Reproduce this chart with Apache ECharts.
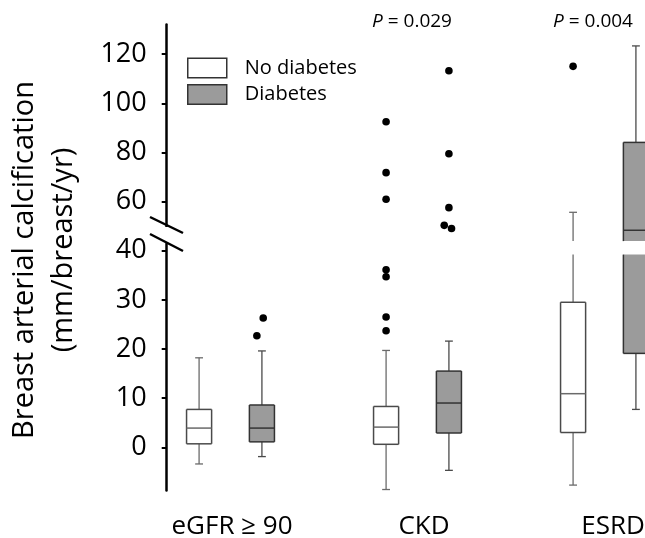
<!DOCTYPE html>
<html>
<head>
<meta charset="utf-8">
<script src="https://cdn.jsdelivr.net/npm/echarts@6/dist/echarts.min.js"></script>
<style>
html,body{margin:0;padding:0;background:#fff;}
#c{width:645px;height:538px;}
</style>
</head>
<body>
<div id="c"></div>
<script>
// ---------------- data ----------------
const categories = ['eGFR ≥ 90', 'CKD', 'ESRD'];
// [lower whisker, Q1, median, Q3, upper whisker]
const noDiabetesBox = [
  [-3.4, 0.7, 3.9, 7.7, 18.2],
  [-8.6, 0.6, 4.1, 8.3, 19.7],
  [-7.7, 3.0, 10.9, 29.5, 55.7]
];
const diabetesBox = [
  [-1.9, 1.1, 3.9, 8.6, 19.6],
  [-4.7, 2.9, 9.0, 15.5, 21.6],
  [7.7, 19.1, 48.4, 84.1, 123.3]
];
const noDiabetesOutliers = [
  [],
  [23.7, 26.5, 34.7, 36.1, 61.0, 71.8, 92.5],
  [115.0]
];
const diabetesOutliers = [
  [22.7, 26.3],
  [49.1, 50.4, 57.6, 79.5, 113.2],
  []
];
const pValueLabels = ['', '0.029', '0.004'];
const lowerTicks = [0, 10, 20, 30, 40];
const upperTicks = [60, 80, 100, 120];
const yTitle = ['Breast arterial calcification', '(mm/breast/yr)'];

// ---------------- style constants ----------------
const FONT = 'Open Sans';
const breakLow = 39.2;   // lower panel cut value
const lowerRange = [-8.8, 41.4];
const upperRange = [44, 132];
const OFFSET = 0.168, BOX_FRAC = 0.134, CAP_FRAC = 0.042;
// horizontal jitter of outlier dots (fraction of category band) - style only
const noDiabetesJitter = [[], [0, 0, 0, 0, 0, 0, 0], [0]];
const diabetesJitter = [[-0.027, 0.007], [0.014, -0.025, 0, 0, 0], []];

function boxRenderer(side, fill, boxStroke, whiskerStroke, medStroke, lo, hi) {
  return function (params, api) {
    const cat = api.value(0);
    const wmin = api.value(1), q1 = api.value(2), med = api.value(3), q3 = api.value(4), wmax = api.value(5);
    const band = api.size([1, 0])[0];
    const cx = api.coord([cat, 0])[0] + side * OFFSET * band;
    const hw = BOX_FRAC * band / 2, hc = CAP_FRAC * band / 2;
    const y = v => api.coord([cat, Math.max(lo, Math.min(hi, v))])[1];
    const inside = v => v >= lo && v <= hi;
    const ch = [];
    const ws = {stroke: whiskerStroke, lineWidth: 1.3};
    if (q1 > lo && wmin < hi) ch.push({type: 'line', shape: {x1: cx, y1: y(wmin), x2: cx, y2: y(q1)}, style: ws});
    if (wmax > lo && q3 < hi) ch.push({type: 'line', shape: {x1: cx, y1: y(q3), x2: cx, y2: y(wmax)}, style: ws});
    if (inside(wmin)) ch.push({type: 'line', shape: {x1: cx - hc, y1: y(wmin), x2: cx + hc, y2: y(wmin)}, style: ws});
    if (inside(wmax)) ch.push({type: 'line', shape: {x1: cx - hc, y1: y(wmax), x2: cx + hc, y2: y(wmax)}, style: ws});
    if (q3 > lo && q1 < hi) {
      const yt = y(q3), yb = y(q1);
      const bs = {stroke: boxStroke, lineWidth: 1.5};
      ch.push({type: 'rect', shape: {x: cx - hw, y: yt, width: 2 * hw, height: yb - yt}, style: {fill: fill}});
      ch.push({type: 'line', shape: {x1: cx - hw, y1: yt, x2: cx - hw, y2: yb}, style: bs});
      ch.push({type: 'line', shape: {x1: cx + hw, y1: yt, x2: cx + hw, y2: yb}, style: bs});
      if (inside(q3)) ch.push({type: 'line', shape: {x1: cx - hw, y1: yt, x2: cx + hw, y2: yt}, style: bs});
      if (inside(q1)) ch.push({type: 'line', shape: {x1: cx - hw, y1: yb, x2: cx + hw, y2: yb}, style: bs});
    }
    if (inside(med)) ch.push({type: 'line', shape: {x1: cx - hw, y1: y(med), x2: cx + hw, y2: y(med)}, style: {stroke: medStroke, lineWidth: 1.5}});
    return {type: 'group', children: ch};
  };
}

function outlierRenderer(side, lo, hi) {
  return function (params, api) {
    const cat = api.value(0), v = api.value(1), j = api.value(2);
    if (v < lo || v > hi) return null;
    const band = api.size([1, 0])[0];
    const p = api.coord([cat, v]);
    return {type: 'circle', shape: {cx: p[0] + (side * OFFSET + j) * band, cy: p[1], r: 3.8}, style: {fill: '#000'}};
  };
}

const boxData = arr => arr.map((b, i) => [i].concat(b));
const outData = (arr, jit) => {
  const out = [];
  arr.forEach((vals, i) => vals.forEach((v, k) => out.push([i, v, jit[i][k] || 0])));
  return out;
};

const ND = {fill: '#ffffff', box: '#4a4a4a', whisker: '#6a6a6a', med: '#6a6a6a'};
const DI = {fill: '#9b9b9b', box: '#333333', whisker: '#4a4a4a', med: '#333333'};

const series = [];
[[0, upperRange[0], upperRange[1]], [1, lowerRange[0], breakLow]].forEach(([g, lo, hi]) => {
  series.push({
    name: 'No diabetes', type: 'custom', xAxisIndex: g, yAxisIndex: g,
    itemStyle: {color: ND.fill, borderColor: ND.box},
    renderItem: boxRenderer(-1, ND.fill, ND.box, ND.whisker, ND.med, lo, hi),
    encode: {x: 0, y: [1, 2, 3, 4, 5]}, data: boxData(noDiabetesBox)
  });
  series.push({
    name: 'Diabetes', type: 'custom', xAxisIndex: g, yAxisIndex: g,
    itemStyle: {color: DI.fill, borderColor: DI.box},
    renderItem: boxRenderer(1, DI.fill, DI.box, DI.whisker, DI.med, lo, hi),
    encode: {x: 0, y: [1, 2, 3, 4, 5]}, data: boxData(diabetesBox)
  });
  series.push({
    name: 'No diabetes', type: 'custom', xAxisIndex: g, yAxisIndex: g,
    itemStyle: {color: ND.fill},
    renderItem: outlierRenderer(-1, lo, hi), encode: {x: 0, y: 1},
    data: outData(noDiabetesOutliers, noDiabetesJitter)
  });
  series.push({
    name: 'Diabetes', type: 'custom', xAxisIndex: g, yAxisIndex: g,
    itemStyle: {color: DI.fill},
    renderItem: outlierRenderer(1, lo, hi), encode: {x: 0, y: 1},
    data: outData(diabetesOutliers, diabetesJitter)
  });
});

const yAxisCommon = (ticks, range, g) => ({
  gridIndex: g, type: 'value', min: range[0], max: range[1],
  offset: -29.7,
  axisLine: {show: true, onZero: false, lineStyle: {color: '#000', width: 2.5}},
  axisTick: {show: true, customValues: ticks, length: 5, lineStyle: {color: '#000', width: 2}},
  axisLabel: {customValues: ticks, fontSize: 27, fontFamily: FONT, color: '#000', margin: 20},
  splitLine: {show: false}
});

const labelShift = [3, 13, 17];
const rich = {};
labelShift.forEach((s, i) => { rich['c' + i] = {fontSize: 26, fontFamily: FONT, color: '#000', lineHeight: 30, padding: [0, 0, 0, s]}; });

const option = {
  animation: false,
  backgroundColor: '#fff',
  grid: [
    {left: 137, width: 561, top: 24.5, height: 216.6, containLabel: false, outerBoundsMode: 'none'},
    {left: 137, width: 561, top: 243.8, height: 246.7, containLabel: false, outerBoundsMode: 'none'}
  ],
  xAxis: [
    {gridIndex: 0, type: 'category', data: categories, show: false},
    {gridIndex: 1, type: 'category', data: categories,
     axisLine: {show: false, onZero: false}, axisTick: {show: false},
     axisLabel: {margin: 21, formatter: (v, i) => '{c' + i + '|' + v + '}', rich: rich}}
  ],
  yAxis: [yAxisCommon(upperTicks, upperRange, 0), yAxisCommon(lowerTicks, lowerRange, 1)],
  legend: {
    orient: 'vertical', left: 182, top: 52.5, itemWidth: 39, itemHeight: 19.5, itemGap: 5.5,
    icon: 'rect', selectedMode: false,
    textStyle: {fontSize: 20, fontFamily: FONT, color: '#000', lineHeight: 20, padding: [0, 0, 0, 13]},
    data: [
      {name: 'No diabetes', itemStyle: {color: '#fff', borderColor: '#333', borderWidth: 1.5}},
      {name: 'Diabetes', itemStyle: {color: '#9b9b9b', borderColor: '#333', borderWidth: 1.5}}
    ]
  },
  graphic: [
    // axis break
    {type: 'rect', shape: {x: 162, y: 227, width: 9, height: 15}, style: {fill: '#fff'}, z: 100},
    {type: 'line', shape: {x1: 150, y1: 217, x2: 183, y2: 233}, style: {stroke: '#000', lineWidth: 2.5}, z: 101},
    {type: 'line', shape: {x1: 150, y1: 234, x2: 183, y2: 251}, style: {stroke: '#000', lineWidth: 2.5}, z: 101},
    // y title
    {type: 'text', x: 25, y: 260, rotation: Math.PI / 2,
     style: {text: yTitle[0], font: '29px "Open Sans"', fill: '#000', align: 'center', verticalAlign: 'middle'}},
    {type: 'text', x: 64, y: 250, rotation: Math.PI / 2,
     style: {text: yTitle[1], font: '29px "Open Sans"', fill: '#000', align: 'center', verticalAlign: 'middle'}},
    // p-values
    {type: 'text', x: 412, y: 22,
     style: {text: '{i|P} = ' + pValueLabels[1], fontSize: 19, fontFamily: FONT, fill: '#000', align: 'center', verticalAlign: 'middle',
       rich: {i: {fontStyle: 'italic', fontSize: 19, fontFamily: FONT, fill: '#000'}}}},
    {type: 'text', x: 593, y: 22,
     style: {text: '{i|P} = ' + pValueLabels[2], fontSize: 19, fontFamily: FONT, fill: '#000', align: 'center', verticalAlign: 'middle',
       rich: {i: {fontStyle: 'italic', fontSize: 19, fontFamily: FONT, fill: '#000'}}}}
  ],
  series: series
};

const chart = echarts.init(document.getElementById('c'));
chart.setOption(option);
</script>
</body>
</html>
